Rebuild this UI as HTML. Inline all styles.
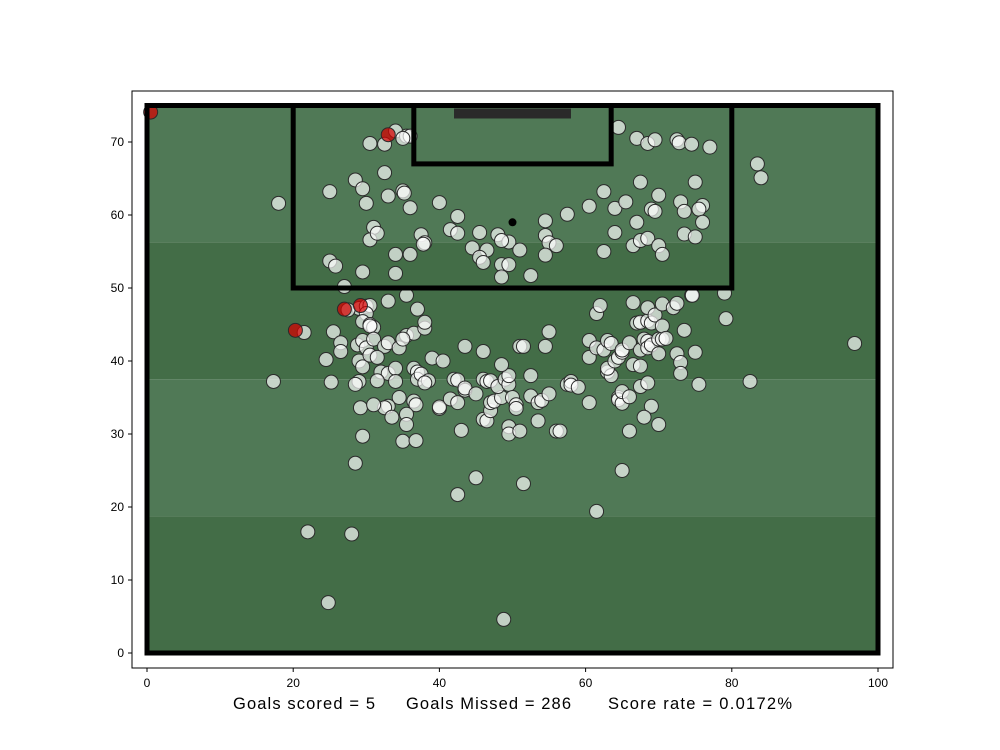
<!DOCTYPE html>
<html><head><meta charset="utf-8"><style>
html,body{margin:0;padding:0;background:#fff;}
svg{display:block;font-family:"Liberation Sans",sans-serif;}
</style></head><body>
<svg id="chart" width="1000" height="750">
<rect x="0" y="0" width="1000" height="750" fill="#fff"/>
<g id="pitch"></g>
<g id="marks"></g>
<g id="lines"></g>
<rect x="132" y="91" width="761" height="577" fill="none" stroke="#000" stroke-width="1"/>
<g id="axes"></g>
<g font-size="16.5" fill="#000">
<text x="233" y="709" textLength="142">Goals scored = 5</text>
<text x="406" y="709" textLength="165">Goals Missed = 286</text>
<text x="608" y="709" textLength="184">Score rate = 0.0172%</text>
</g>
</svg>
<script>
const missX=[34,35.5,36,35,30.5,32.5,64.5,67,68.5,69.5,72.5,72.8,74.5,77,32.5,28.5,29.5,25,33,35,35.2,36,30,40,42.5,62.5,67.5,70,75,73,76,75.5,73.5,69,69.5,64,65.5,60.5,57.5,54.5,67,76,31,30.5,31.5,37.5,38,37.8,41.5,42.5,45.5,48,54.5,55,56,64,66.5,67.5,68.5,70,70.5,73.5,75,62.5,44.5,46.5,49.5,48.5,45.5,46,48.5,49.5,51,54.5,48.5,52.5,34,36,25,25.8,29.5,34,83.5,84,18,27,35.5,29,30,30.5,27.5,33,37,35.5,36.5,38,38,30,29.5,30.5,31,30.5,25.5,21.5,26.5,26.5,24.5,28.8,29.5,30,31,32.5,33,34.5,35,29,29.5,30.5,31.5,32,33,34,34,36.5,37,37,37.5,38.5,39,40.5,38,31.5,29,28.5,25.2,17.3,34.5,36.5,36.8,33,32.5,29.2,31,33.5,35.5,35.5,35,36.8,29.5,40,40,41.5,42.5,42,42.5,43.5,43.5,43,43.5,46,45,46,46.5,47,46,46.5,47,47,47.5,48.5,48,49,49.5,49.5,48.5,50,50.5,50.5,49.5,49.5,51,51,51.5,52.5,52.5,53.5,54,55,53.5,54.5,55,56,56.5,57.5,58,58,59,60.5,60.5,60.5,61.5,62.5,63,61.5,62,63,63.5,63,63.5,64,64.5,65,65,66,64.5,64.5,65,65,66,66,66.5,67,67.5,66.5,67.5,67.5,68,68.5,68.5,69,68.5,69,68.5,69.5,70,70.5,70,70.5,70.5,71,72,72.5,72.5,73,73,73.5,74.5,74.6,75,75.5,79,79.2,67.5,68.5,69,70,68,82.5,96.8,65,61.5,51.5,45,42.5,28.5,22,28,24.8,48.8];
const missY=[71.5,70.8,70.8,70.5,69.8,69.7,72,70.5,69.8,70.3,70.3,69.9,69.7,69.3,65.8,64.8,63.6,63.2,62.6,63.3,63,61,61.6,61.7,59.8,63.2,64.5,62.7,64.5,61.8,61.3,60.8,60.5,60.8,60.5,60.9,61.8,61.2,60.1,59.2,59,59,58.3,56.6,57.5,57.3,56.2,56,58,57.5,57.6,57.3,57.2,56.2,55.8,57.6,55.8,56.5,56.8,55.8,54.6,57.4,57,55,55.5,55.2,56.3,56.5,54.2,53.5,53.2,53.2,55.2,54.5,51.5,51.7,54.6,54.6,53.7,53,52.2,52,67,65.1,61.6,50.2,49,47.2,47.5,47.6,47,48.2,47.1,43.5,43.8,44.5,45.3,46.5,45.4,45,44.6,44.8,44,43.9,42.5,41.3,40.2,42.2,42.8,41.8,43,42,42.5,41.8,43,40,39.2,40.8,40.5,38.5,38.3,39,37.2,39,38.5,37.5,38.2,37.3,40.4,40,37,37.3,37.2,36.8,37.1,37.2,35,34.5,34,33.8,33.6,33.6,34,32.3,32.7,31.3,29,29.1,29.7,33.5,33.7,34.8,34.3,37.5,37.4,36,36.3,30.5,42,41.3,35.5,37.5,37.2,37.3,32,31.8,33.2,34.3,34.5,35,36.5,37.5,36.8,38,39.5,35,34,33.5,31,30,30.4,42,42,38,35.2,34.3,34.6,35.5,31.8,42,44,30.4,30.4,36.8,37.2,36.7,36.4,40.5,34.3,42.8,41.8,41.5,42.8,46.5,47.6,38.5,38,39,42.4,40,40.5,41.2,41.5,42.5,35,34.7,34.2,35.8,35.1,30.4,48,45.2,45.3,39.5,39.3,41.5,43,42.7,41.8,42.2,45.5,45.2,47.3,46.3,43,43,41,44.8,47.8,43.1,47.3,47.9,41,39.8,38.3,44.2,49,49,41.2,36.8,49.3,45.8,36.5,37,33.8,31.3,32.3,37.2,42.4,25,19.4,23.2,24,21.7,26,16.6,16.3,6.9,4.6];
const goalX=[0.5,33,20.3,27,29.2];
const goalY=[74.1,71,44.2,47.1,47.6];
const xTicks=[0,20,40,60,80,100];
const yTicks=[0,10,20,30,40,50,60,70];
const sx=v=>147+v*7.31;
const sy=v=>653-v*7.3;
const NS="http://www.w3.org/2000/svg";
function mk(parent,tag,attrs){const e=document.createElementNS(NS,tag);for(const k in attrs)e.setAttribute(k,attrs[k]);parent.appendChild(e);return e;}
const pitch=document.getElementById('pitch');
const bands=[[0,18.75,'#436d47'],[18.75,37.5,'#507956'],[37.5,56.25,'#436d47'],[56.25,75,'#507956']];
bands.forEach((b,i)=>{const r=mk(pitch,'rect',{x:sx(0),y:sy(b[1]),width:sx(100)-sx(0),height:sy(b[0])-sy(b[1]),fill:b[2]});

});
const lines=document.getElementById('lines');
function box(x0,y0,x1,y1,name){const r=mk(lines,'rect',{x:sx(x0),y:sy(y1),width:sx(x1)-sx(x0),height:sy(y0)-sy(y1),fill:'none',stroke:'#000','stroke-width':5});

}
box(0,0,100,75,'pitch-boundary');
box(20,50,80,75,'penalty-box');
box(36.5,67,63.5,75,'six-yard-box');
const goal=mk(lines,'rect',{x:sx(42),y:sy(75)+3,width:sx(58)-sx(42),height:10,fill:'#2a2a2a'});


const spot=mk(lines,'circle',{cx:sx(50),cy:sy(59),r:4,fill:'#000'});


const marks=document.getElementById('marks');
missX.forEach((x,i)=>{const c=mk(marks,'circle',{cx:sx(x),cy:sy(missY[i]),r:7,fill:'rgba(255,255,255,0.68)',stroke:'#2b2b2b','stroke-width':1});

});
goalX.forEach((x,i)=>{const c=mk(marks,'circle',{cx:sx(x),cy:sy(goalY[i]),r:7,fill:'rgba(215,0,0,0.72)',stroke:'#2b2b2b','stroke-width':1});

});
const axes=document.getElementById('axes');
xTicks.forEach(t=>{mk(axes,'line',{x1:sx(t),x2:sx(t),y1:668,y2:672,stroke:'#000'});
const tx=mk(axes,'text',{x:sx(t),y:687,'text-anchor':'middle','font-size':12,fill:'#000'});tx.textContent=t;

});
yTicks.forEach(t=>{mk(axes,'line',{x1:128,x2:132,y1:sy(t),y2:sy(t),stroke:'#000'});
const tx=mk(axes,'text',{x:124,y:sy(t)+4,'text-anchor':'end','font-size':12,fill:'#000'});tx.textContent=t;

});
</script>
</body></html>
